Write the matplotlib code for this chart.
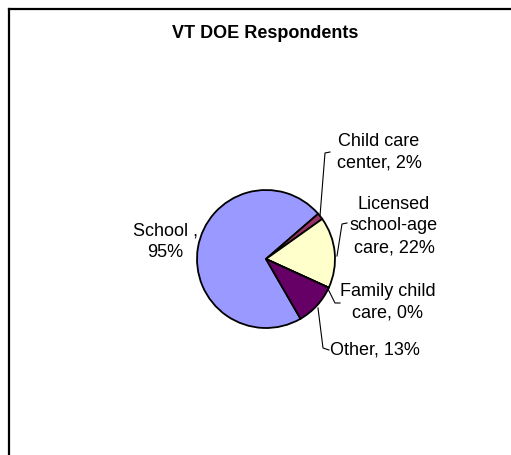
import matplotlib.pyplot as plt
from matplotlib.lines import Line2D

# data
categories = ['School ,', 'Child care\ncenter,', 'Licensed\nschool-age\ncare,', 'Family child\ncare,', 'Other,']
percents = [95, 2, 22, 0, 13]
colors = ['#9999FF', '#993366', '#FFFFCC', '#CCFFFF', '#660066']
title = 'VT DOE Respondents'

W, H = 511, 455
plt.rcParams['font.family'] = ['Liberation Sans', 'DejaVu Sans']

fig = plt.figure(figsize=(W / 100, H / 100), dpi=100)
ax = fig.add_axes([0, 0, 1, 1])

def py(y):
    # pixel row (from top) -> data y
    return H - y

# pie
cx, cy, r = 266, 259, 69
ax.pie(percents, colors=colors, startangle=-60, counterclock=False,
       center=(cx, py(cy)), radius=r, frame=True,
       wedgeprops=dict(edgecolor='black', linewidth=1.3))
ax.set_xlim(0, W)
ax.set_ylim(0, H)
ax.set_aspect('equal')
ax.axis('off')

# labels
label_pos = [(165, 242), (379, 152), (394, 226), (388, 302), (375, 350)]
for name, val, (lx, ly) in zip(categories, percents, label_pos):
    if name.startswith('School'):
        txt = name + '\n' + f'{val}%'
    else:
        txt = f'{name} {val}%'
    ax.text(lx, py(ly), txt, ha='center', va='center', fontsize=13,
            linespacing=1.38, color='black')

# leader lines
leaders = [
    [(320, 216), (325, 153), (330, 152)],
    [(337, 256), (342, 224), (347, 223)],
    [(328, 289), (335, 303), (340, 303)],
    [(318, 308), (323, 348), (329, 350)],
]
for pts in leaders:
    xs = [p[0] for p in pts]
    ys = [py(p[1]) for p in pts]
    ax.plot(xs, ys, color='black', linewidth=0.8)

ax.text(265, py(33), title, ha='center', va='center', fontsize=13,
        fontweight='bold')

# chart area border: top and left edges only (rest runs off the image)
fig.add_artist(Line2D([8.5 / W, 1], [py(8.5) / H] * 2, color='black',
                      linewidth=1.6, transform=fig.transFigure))
fig.add_artist(Line2D([8.5 / W] * 2, [0, py(8.5) / H], color='black',
                      linewidth=1.6, transform=fig.transFigure))

fig.savefig('out.png', dpi=100, facecolor='white')
